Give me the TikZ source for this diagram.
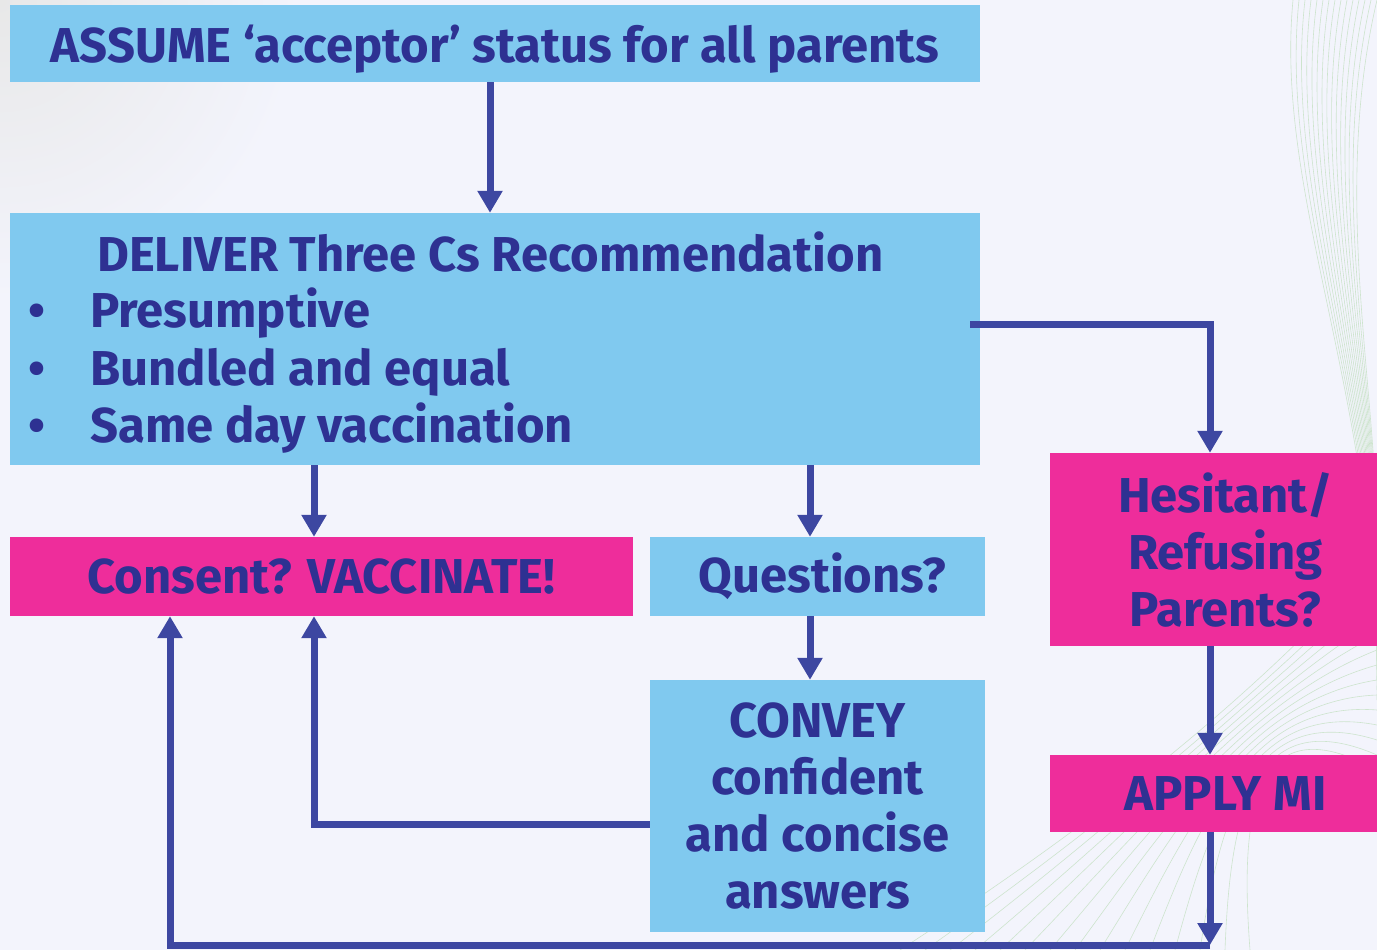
\documentclass[tikz,border=0pt]{standalone}
\usepackage{fontspec}
\setmainfont{Fira Sans}
\usetikzlibrary{arrows.meta}
\definecolor{bgc}{HTML}{F3F4FC}
\definecolor{lblue}{HTML}{80C9EF}
\definecolor{mag}{HTML}{EE2D9B}
\definecolor{lnc}{HTML}{3D47A1}
\definecolor{txc}{HTML}{2E3192}
\newcommand{\sh}{\hspace*{24pt}}
\begin{document}
\begin{tikzpicture}[x=1pt,y=-1pt,
  bluebox/.style={fill=lblue,draw=none,inner sep=0pt,text=txc,font=\fontsize{49}{57}\selectfont\bfseries,align=center},
  magbox/.style={fill=mag,draw=none,inner sep=0pt,text=txc,font=\fontsize{49}{57}\selectfont\bfseries,align=center},
  txt/.style={inner sep=0pt,text=txc,font=\fontsize{49}{57}\selectfont\bfseries,anchor=base west},
  conn/.style={draw=lnc,line width=7pt},
  arr/.style={conn,-{Triangle[width=24pt,length=22pt]}}]
\useasboundingbox (0,0) rectangle (1377,950);
\begin{scope}
\clip (0,0) rectangle (1377,950);
\fill[bgc] (0,0) rectangle (1377,950);
\shade[inner color=gray!18,outer color=bgc,draw=none] (-300,-300) rectangle (300,300);
\begin{scope}[draw=green!30!gray!30,line width=0.6pt]
\foreach \i in {0,...,14} {
  \draw (1377-\i*6,0) .. controls (1330-\i*4,200) and (1380,400) .. (1377,560+\i*10);
  \draw (900+\i*25,950) .. controls (1100+\i*10,820) and (1250,700) .. (1377,560+\i*15);
}
\end{scope}
\end{scope}

\node[bluebox,minimum width=970pt,minimum height=77pt] (assume) at (495,43.5) {};
\node[txt,anchor=base] (at) at (495,63) {ASSUME ‘acceptor’ status for all parents};
\node[bluebox,minimum width=970pt,minimum height=252pt] (deliver) at (495,339) {};
\node[txt] (dh) at (97,271) {DELIVER Three Cs Recommendation};
\node[txt] (b1) at (28,327) {•};
\node[txt] (b2) at (28,385) {•};
\node[txt] (b3) at (28,442) {•};
\node[txt] (t1) at (90,327) {Presumptive};
\node[txt] (t2) at (90,385) {Bundled and equal};
\node[txt] (t3) at (90,442) {Same day vaccination};

\node[magbox,minimum width=623pt,minimum height=79pt] (consent) at (321.5,576.5) {Consent? VACCINATE!};
\node[bluebox,minimum width=335pt,minimum height=79pt] (quest) at (817.5,576.5) {\hspace*{10pt}Questions?};
\node[magbox,minimum width=327pt,minimum height=193pt] (hes) at (1213.5,549.5) {\sh Hesitant/\\\sh Refusing\\\sh Parents?};
\node[bluebox,minimum width=335pt,minimum height=252pt] (convey) at (817.5,806) {CONVEY\\confident\\and concise\\answers};
\node[magbox,minimum width=327pt,minimum height=77pt] (apply) at (1213.5,793.5) {\sh APPLY MI};

\coordinate (dr) at (970,324);
\coordinate (hc) at (1210,324);
\coordinate (bend1) at (314,824);
\coordinate (bot) at (1210,945);
\coordinate (botl) at (170,945);

\draw[arr] (assume.south -| 490,0) -- (deliver.north -| 490,0);
\draw[arr] (dr) -- (hc) -- (hes.north -| hc);
\draw[arr] (deliver.south -| 314,0) -- (consent.north -| 314,0);
\draw[arr] (deliver.south -| 810,0) -- (quest.north -| 810,0);
\draw[arr] (quest.south -| 810,0) -- (convey.north -| 810,0);
\draw[arr] (convey.west |- bend1) -- (bend1) -- (consent.south -| bend1);
\draw[arr] (hes.south -| 1210,0) -- (apply.north -| 1210,0);
\draw[arr] (apply.south -| 1210,0) -- (bot);
\draw[arr] (bot) -- (botl) -- (consent.south -| botl);
\end{tikzpicture}
\end{document}
